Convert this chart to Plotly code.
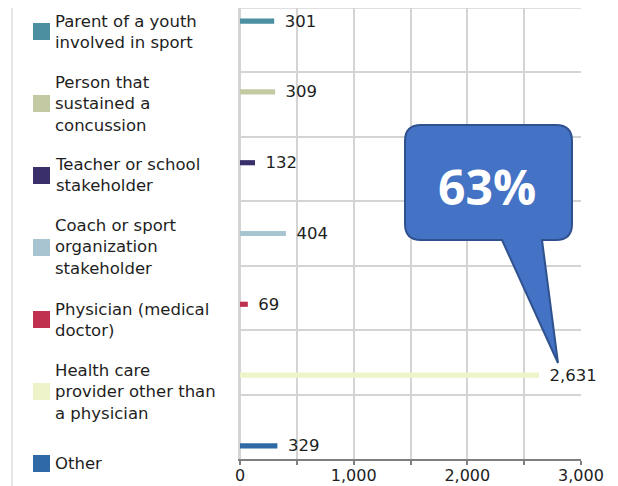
import plotly.graph_objects as go

# ---------------- data ----------------
categories = [
    "Parent of a youth<br>involved in sport",
    "Person that<br>sustained a<br>concussion",
    "Teacher or school<br>stakeholder",
    "Coach or sport<br>organization<br>stakeholder",
    "Physician (medical<br>doctor)",
    "Health care<br>provider other than<br>a physician",
    "Other",
]
values = [301, 309, 132, 404, 69, 2631, 329]
colors = ["#4b8fa0", "#c3caa3", "#3a2f6b", "#a8c4d0", "#c0314f", "#eef3c9", "#2f6aa6"]
x_ticks = [0, 1000, 2000, 3000]

# ---------------- layout geometry (window pixels) ----------------
WIN_W, WIN_H = 618, 486
OFF = 8                     # default page body margin in the browser
W, H = WIN_W - OFF, WIN_H - OFF
PL, PR, PT, PB = 240, 581, 8, 459  # plot area edges in window pixels


def px(p):
    return (p - PL) / (PR - PL)


def py(p):
    return (PB - p) / (PB - PT)


FONT = "DejaVu Sans"
TXT = "#1e1e1e"
GRID = "#d4d4d4"

n = len(categories)
slot = 0.0986
bar_w = 0.08

fig = go.Figure()
for i, (cat, val, col) in enumerate(zip(categories, values, colors)):
    fig.add_trace(go.Bar(
        x=[val], y=[cat], orientation="h",
        width=bar_w, offset=(i - (n - 1) / 2) * slot - bar_w / 2,
        marker=dict(color=col, line=dict(width=0)),
        texttemplate="\u00a0\u00a0%{x:,}",
        textposition="outside", constraintext="none", cliponaxis=False,
        textfont=dict(family=FONT, size=16.5, color=TXT),
        name=cat.replace("<br>", " "), showlegend=False,
    ))

shapes = []
annotations = []

# manual legend on the left
for i, (cat, col) in enumerate(zip(categories, colors)):
    cy = 31.5 + i * 72
    shapes.append(dict(type="rect", xref="paper", yref="paper",
                       x0=px(33), x1=px(50), y0=py(cy - 8.5), y1=py(cy + 8.5),
                       fillcolor=col, line=dict(width=0)))
    annotations.append(dict(xref="paper", yref="paper", x=px(53), y=py(cy),
                            xanchor="left", yanchor="middle", align="left",
                            text=cat, showarrow=False,
                            font=dict(family=FONT, size=16.5, color=TXT)))

# chart-area left border
shapes.append(dict(type="line", xref="paper", yref="paper",
                   x0=px(12), x1=px(12), y0=py(OFF), y1=py(WIN_H),
                   line=dict(color="#dcdcdc", width=1.5)))
# plot-area top border
shapes.append(dict(type="line", xref="paper", yref="paper", layer="below",
                   x0=0, x1=1, y0=1, y1=1,
                   line=dict(color=GRID, width=1.5)))

# speech-bubble callout
L, R, T, B, r = 405, 572, 125, 240, 16
tl, tr, tip = 502, 542, (558, 363)
pts = [
    ("M", L + r, T), ("L", R - r, T), ("Q", R, T, R, T + r),
    ("L", R, B - r), ("Q", R, B, R - r, B), ("L", tr, B), ("L", tip[0], tip[1]),
    ("L", tl, B), ("L", L + r, B), ("Q", L, B, L, B - r), ("L", L, T + r),
    ("Q", L, T, L + r, T),
]
path = ""
for seg in pts:
    cmd = seg[0]
    coords = seg[1:]
    parts = []
    for j in range(0, len(coords), 2):
        parts.append(f"{px(coords[j]):.5f},{py(coords[j + 1]):.5f}")
    path += cmd + " ".join(parts)
path += "Z"
shapes.append(dict(type="path", xref="paper", yref="paper", path=path,
                   fillcolor="#4472c4", line=dict(color="#2f528f", width=2)))

total = sum(values)
share = round(100 * max(values) / total)
annotations.append(dict(xref="paper", yref="paper", x=px(487), y=py(187),
                        xanchor="center", yanchor="middle", showarrow=False,
                        text=f"<b>{share}%</b>",
                        font=dict(family="Open Sans", size=48, color="white")))

fig.update_layout(
    template="none",
    width=W, height=H,
    margin=dict(l=PL - OFF, r=WIN_W - PR, t=PT - OFF, b=WIN_H - PB, pad=0),
    paper_bgcolor="white", plot_bgcolor="white",
    barmode="overlay",
    showlegend=False,
    shapes=shapes, annotations=annotations,
    font=dict(family=FONT, size=16, color=TXT),
)
fig.update_xaxes(
    range=[0, 3000], tickvals=x_ticks, tickformat=",d",
    showgrid=True, gridcolor=GRID, gridwidth=1.5,
    zeroline=True, zerolinecolor=GRID, zerolinewidth=1.5,
    showline=True, linecolor="#7f7f7f", linewidth=1.5,
    ticks="outside", ticklen=4, tickcolor="#7f7f7f", tickwidth=1.5,
    ticklabelstandoff=-3,
    minor=dict(dtick=500, showgrid=True, gridcolor=GRID, gridwidth=1.5,
               ticks="outside", ticklen=4, tickcolor="#7f7f7f", tickwidth=1.5),
    tickfont=dict(family=FONT, size=16, color=TXT),
    automargin=False, fixedrange=True,
)
fig.update_yaxes(
    type="category", categoryorder="array", categoryarray=categories,
    range=[n - 0.5, -0.5], tickson="boundaries",
    showgrid=True, gridcolor=GRID, gridwidth=1.5,
    showticklabels=False, ticks="", zeroline=False,
    showline=True, mirror=False, linecolor=GRID, linewidth=1.5,
    automargin=False, fixedrange=True,
)

fig.write_html("out.html")
